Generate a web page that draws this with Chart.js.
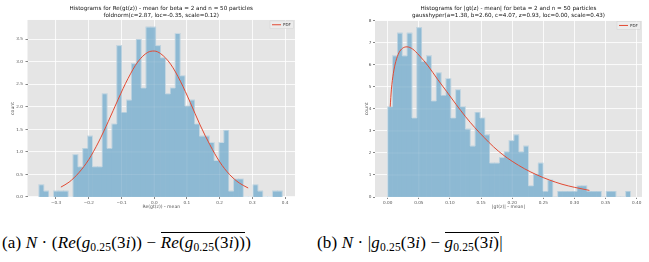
<!DOCTYPE html>
<html>
<head>
<meta charset="utf-8">
<script src="https://cdn.jsdelivr.net/npm/chart.js@4.4.1/dist/chart.umd.min.js"></script>
<style>
  html, body { margin: 0; padding: 0; background: #fff; }
  body { width: 649px; height: 262px; position: relative; overflow: hidden; }
  canvas { position: absolute; top: 0; }
  #re { left: 0; }
  #abs { left: 320px; }
  .cap { position: absolute; top: 232px; line-height: 20px; font-family: "Liberation Serif", "DejaVu Serif", serif; font-size: 17px; letter-spacing: 0.15px; color: #000; white-space: nowrap; }
  .cap sub { font-size: 68%; vertical-align: -0.28em; line-height: 0; }
  .ov { display: inline-block; border-top: 1px solid #000; line-height: 1.05; padding-top: 1px; }
</style>
</head>
<body>
<canvas id="re" width="320" height="212"></canvas>
<canvas id="abs" width="329" height="212"></canvas>
<div class="cap" style="left:2px">(a) <i>N</i> · (<i>Re</i>(<i>g</i><sub>0.25</sub>(3<i>i</i>)) − <span class="ov"><i>Re</i>(<i>g</i><sub>0.25</sub>(3<i>i</i>))</span>)</div>
<div class="cap" style="left:317px">(b) <i>N</i> · |<i>g</i><sub>0.25</sub>(3<i>i</i>) − <span class="ov"><i>g</i><sub>0.25</sub>(3<i>i</i>)</span>|</div>
<script>
// left panel: Re(gt(z)) - mean, 50 bins
const reBinStart = -0.352;
const reBinWidth = 0.01486;
const reDensity = [0.27, 0.13, 0, 0.13, 0.13, 0.13, 0, 0.94, 0.67, 1.08,
                   1.35, 0.67, 0.67, 2.29, 1.08, 1.62, 3.36, 1.88, 2.15, 2.96,
                   3.50, 2.42, 3.77, 3.77, 3.36, 3.09, 2.29, 2.42, 3.63, 2.69,
                   2.02, 2.15, 1.62, 1.35, 1.35, 1.21, 0.81, 1.21, 1.48, 0.13,
                   0.40, 0.40, 0, 0, 0.27, 0.13, 0, 0, 0.13, 0.13];
const rePdfX = [-0.285, -0.26, -0.23, -0.20, -0.17, -0.14, -0.11, -0.08, -0.05, -0.02, 0.0,
                0.02, 0.05, 0.08, 0.11, 0.14, 0.17, 0.20, 0.23, 0.26, 0.287];
const rePdfY = [0.22, 0.33, 0.54, 0.83, 1.22, 1.68, 2.17, 2.63, 3.00, 3.21, 3.24,
                3.18, 2.95, 2.57, 2.10, 1.60, 1.16, 0.78, 0.50, 0.31, 0.20];
const reXTicks = [-0.3, -0.2, -0.1, 0, 0.1, 0.2, 0.3, 0.4];
const reXLabels = ['−0.3', '−0.2', '−0.1', '0.0', '0.1', '0.2', '0.3', '0.4'];
const reYTicks = [0, 0.5, 1, 1.5, 2, 2.5, 3, 3.5];
const reYLabels = ['0.0', '0.5', '1.0', '1.5', '2.0', '2.5', '3.0', '3.5'];

// right panel: |gt(z) - mean|, 50 bins
const absBinStart = 0;
const absBinWidth = 0.0078;
const absDensity = [4.10, 6.41, 7.44, 6.41, 7.44, 3.59, 7.69, 6.15, 6.41, 4.36,
                    5.64, 4.62, 5.38, 3.59, 4.87, 4.10, 3.08, 2.31, 3.85, 3.59,
                    2.82, 1.54, 1.54, 1.79, 2.05, 2.56, 2.82, 2.05, 2.31, 0.51,
                    1.03, 1.54, 0.26, 0.77, 0, 0.26, 0.26, 0.26, 0.26, 0.51,
                    0.51, 0.26, 0.26, 0.26, 0, 0.26, 0.26, 0, 0, 0.26];
const absPdfX = [0.004, 0.006, 0.009, 0.013, 0.018, 0.024, 0.031, 0.040, 0.050, 0.065,
                 0.080, 0.095, 0.110, 0.125, 0.140, 0.155, 0.170, 0.185, 0.200, 0.220,
                 0.240, 0.260, 0.280, 0.300, 0.324];
const absPdfY = [4.10, 4.90, 5.60, 6.15, 6.55, 6.76, 6.82, 6.72, 6.45, 5.95,
                 5.35, 4.78, 4.20, 3.65, 3.15, 2.70, 2.28, 1.92, 1.62, 1.28,
                 1.00, 0.77, 0.58, 0.44, 0.30];
const absXTicks = [0, 0.05, 0.1, 0.15, 0.2, 0.25, 0.3, 0.35, 0.4];
const absXLabels = ['0.00', '0.05', '0.10', '0.15', '0.20', '0.25', '0.30', '0.35', '0.40'];
const absYTicks = [0, 1, 2, 3, 4, 5, 6, 7, 8];
const absYLabels = ['0', '1', '2', '3', '4', '5', '6', '7', '8'];

const FONT = 'DejaVu Sans';
const BAR = 'rgb(141,185,211)';
const RED = '#E24A33';

// grey panel behind the grid
const panelBg = {
  id: 'panelBg',
  beforeDraw(chart) {
    const a = chart.chartArea, ctx = chart.ctx;
    ctx.save();
    ctx.fillStyle = '#E5E5E5';
    ctx.fillRect(a.left, a.top, a.right - a.left, a.bottom - a.top);
    ctx.restore();
  }
};

// grid faintly visible through the bars (matplotlib draws them with alpha)
const gridThrough = {
  id: 'gridThrough',
  afterDatasetDraw(chart, args) {
    if (args.meta.type !== 'bar') return;
    const a = chart.chartArea, ctx = chart.ctx;
    const x = chart.scales.x, y = chart.scales.y;
    ctx.save();
    ctx.strokeStyle = 'rgba(255,255,255,0.13)';
    ctx.lineWidth = 0.8;
    ctx.beginPath();
    x.ticks.forEach(t => { const p = x.getPixelForValue(t.value); ctx.moveTo(p, a.top); ctx.lineTo(p, a.bottom); });
    y.ticks.forEach(t => { const p = y.getPixelForValue(t.value); ctx.moveTo(a.left, p); ctx.lineTo(a.right, p); });
    ctx.stroke();
    ctx.restore();
  }
};

// small legend box in the top right corner of the panel
const pdfLegend = {
  id: 'pdfLegend',
  afterDatasetsDraw(chart) {
    const a = chart.chartArea, ctx = chart.ctx;
    const w = 23.5, h = 7.6;
    const bx = a.right - w - 1.5, by = a.top + 1;
    ctx.save();
    ctx.fillStyle = 'rgba(238,238,238,0.8)';
    ctx.strokeStyle = 'rgba(204,204,204,0.8)';
    ctx.lineWidth = 0.5;
    ctx.fillRect(bx, by, w, h);
    ctx.strokeRect(bx, by, w, h);
    ctx.strokeStyle = RED;
    ctx.lineWidth = 1;
    ctx.beginPath();
    ctx.moveTo(bx + 2, by + h / 2);
    ctx.lineTo(bx + 11, by + h / 2);
    ctx.stroke();
    ctx.fillStyle = '#333';
    ctx.font = '4px "' + FONT + '"';
    ctx.textBaseline = 'middle';
    ctx.fillText('PDF', bx + 13, by + h / 2 + 0.3);
    ctx.restore();
  }
};

function histChart(id, p) {
  const bars = p.density.map((d, i) => ({x: p.start + (i + 0.5) * p.width, y: d}));
  const outline = [{x: p.start, y: 0}];
  p.density.forEach((d, i) => outline.push({x: p.start + i * p.width, y: d}));
  outline.push({x: p.start + p.density.length * p.width, y: 0});
  const pdf = p.pdfX.map((x, i) => ({x: x, y: p.pdfY[i]}));

  const tickFont = {family: FONT, size: 4.2};
  const labelFont = {family: FONT, size: 4.6};

  return new Chart(document.getElementById(id), {
    type: 'bar',
    data: {
      datasets: [
        {type: 'line', data: pdf, borderColor: RED, borderWidth: 1, pointRadius: 0,
         cubicInterpolationMode: 'monotone', fill: false, order: 0},
        {type: 'line', data: outline, borderColor: 'rgba(238,238,238,0.5)', borderWidth: 1,
         pointRadius: 0, stepped: 'before', fill: false, order: 1},
        {type: 'bar', data: bars, backgroundColor: BAR, borderWidth: 0,
         barPercentage: 1, categoryPercentage: 1, order: 2}
      ]
    },
    options: {
      responsive: false,
      animation: false,
      layout: {padding: {left: 0, right: p.padRight, top: 0, bottom: 0}},
      plugins: {
        legend: {display: false},
        tooltip: {enabled: false},
        title: {
          display: true, text: p.title, fullSize: false, color: '#111',
          font: {family: FONT, size: 5.6, weight: 'normal', lineHeight: 1.13},
          padding: {top: 5.8, bottom: p.titleBottom}
        }
      },
      scales: {
        x: {
          type: 'linear', min: p.xMin, max: p.xMax, offset: false,
          grid: {color: '#fff', lineWidth: 0.8, tickColor: '#666', tickLength: 2, drawTicks: true, offset: false},
          border: {display: false},
          afterBuildTicks: s => { s.ticks = p.xTicks.map(v => ({value: v})); },
          afterFit: s => { s.height = 15; },
          ticks: {autoSkip: false, maxRotation: 0, padding: 1, color: '#555', font: tickFont,
                  callback: (v, i) => p.xLabels[i]},
          title: {display: true, text: p.xTitle, color: '#555', font: labelFont,
                  padding: {top: 0, bottom: 2.6}}
        },
        y: {
          type: 'linear', min: 0, max: p.yMax,
          grid: {color: '#fff', lineWidth: 0.8, tickColor: '#666', tickLength: 2, drawTicks: true},
          border: {display: false},
          afterBuildTicks: s => { s.ticks = p.yTicks.map(v => ({value: v})); },
          afterFit: s => { s.width = p.yWidth; },
          ticks: {autoSkip: false, padding: p.yTickPad, color: '#555', font: tickFont,
                  callback: (v, i) => p.yLabels[i]},
          title: {display: true, text: 'count', color: '#555', font: labelFont,
                  padding: {top: p.yTitlePad, bottom: 0}}
        }
      }
    },
    plugins: [panelBg, gridThrough, pdfLegend]
  });
}

histChart('re', {
  start: reBinStart, width: reBinWidth, density: reDensity,
  pdfX: rePdfX, pdfY: rePdfY,
  xMin: -0.387, xMax: 0.430, yMax: 3.93,
  xTicks: reXTicks, xLabels: reXLabels, yTicks: reYTicks, yLabels: reYLabels,
  title: ['Histograms for Re(gt(z)) - mean for beta = 2 and n = 50 particles',
          'foldnorm(c=2.87, loc=-0.35, scale=0.12)'],
  xTitle: 'Re(gt(z)) - mean',
  padRight: 25, titleBottom: 1.5, yWidth: 27.5, yTickPad: 2.5, yTitlePad: 10.3
});

histChart('abs', {
  start: absBinStart, width: absBinWidth, density: absDensity,
  pdfX: absPdfX, pdfY: absPdfY,
  xMin: -0.0204, xMax: 0.4085, yMax: 8.01,
  xTicks: absXTicks, xLabels: absXLabels, yTicks: absYTicks, yLabels: absYLabels,
  title: ['Histograms for |gt(z) - mean| for beta = 2 and n = 50 particles',
          'gausshyper(a=1.38, b=2.60, c=4.07, z=0.93, loc=0.00, scale=0.43)'],
  xTitle: '|gt(z)| - mean|',
  padRight: 7, titleBottom: 2.2, yWidth: 55, yTickPad: 1.5, yTitlePad: 44
});
</script>
</body>
</html>
